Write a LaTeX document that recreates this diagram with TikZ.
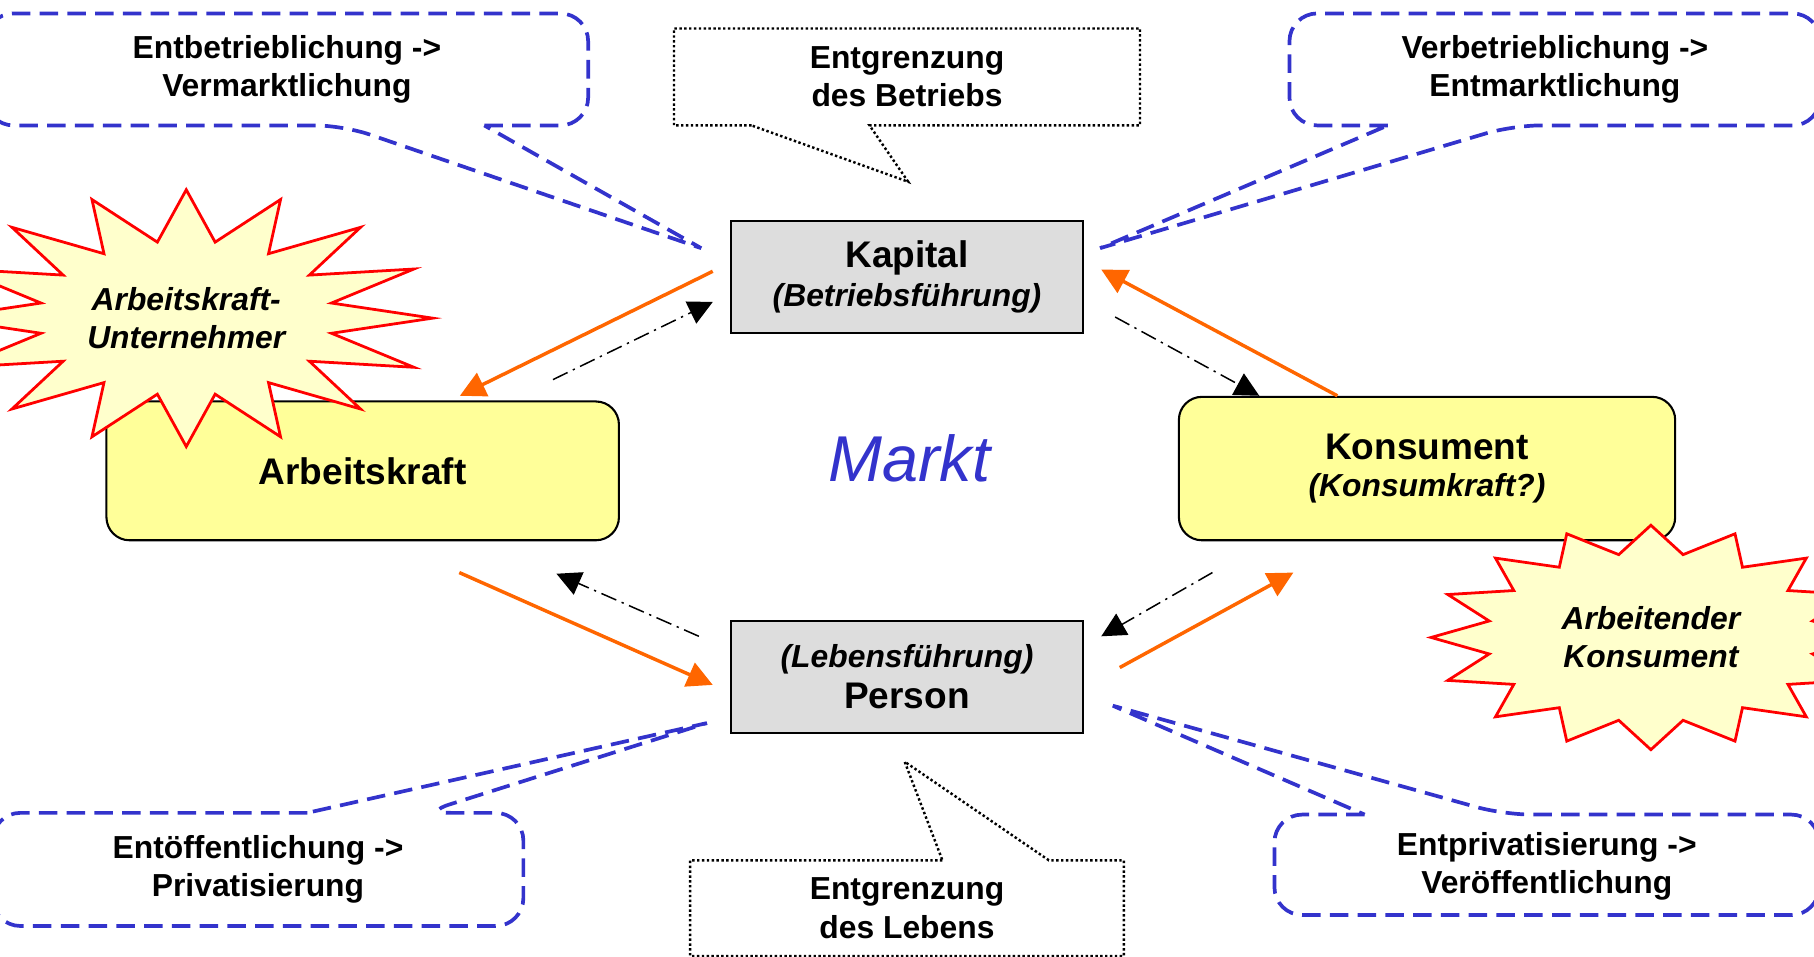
\documentclass[tikz,border=0pt]{standalone}
\usepackage{fontspec}
\setmainfont{Liberation Sans}
\usetikzlibrary{calc, positioning, arrows.meta}

\definecolor{boxGray}{HTML}{DDDDDD}
\definecolor{boxYellow}{HTML}{FFFF99}
\definecolor{burstFill}{HTML}{FFFFCC}
\definecolor{flowOrange}{HTML}{FF6600}
\definecolor{calloutBlue}{HTML}{3333CC}

\tikzset{
    txtSmall/.style={font=\fontsize{13.75}{16.5}\selectfont\bfseries, align=center, inner sep=0pt},
    grayBox/.style={draw=black, line width=0.9pt, fill=boxGray, minimum width=152pt, minimum height=48.5pt,
        align=center, font=\fontsize{13.75}{17}\selectfont\bfseries},
    yellowBox/.style={draw=black, line width=0.9pt, fill=boxYellow, rounded corners=10pt,
        align=center, font=\fontsize{13.75}{16}\selectfont\bfseries},
    burst/.style={draw=red, line width=1.2pt, fill=burstFill, line join=miter},
    burstText/.style={font=\fontsize{13.75}{16.5}\selectfont\bfseries\itshape, align=center},
    blueCall/.style={draw=calloutBlue, line width=1.6pt, dash pattern=on 8pt off 4pt},
    dotCall/.style={draw=black, line width=1.05pt, dash pattern=on 1.05pt off 1.05pt},
    flowArrow/.style={draw=flowOrange, line width=1.5pt, -{Triangle[length=11pt,width=11pt]}},
    backArrow/.style={draw=black, line width=0.65pt, dash pattern=on 7pt off 2.5pt on 1pt off 2.5pt,
        -{Triangle[length=10.5pt,width=10.5pt]}}
}

\begin{document}
\begin{tikzpicture}[x=0.5pt, y=-0.5pt]
    \useasboundingbox (0,0) rectangle (1568,827);
    \clip (0,0) rectangle (1568,827);

    % the four main boxes
    \node[grayBox] (kapital) at (784,239.5) {{\fontsize{16}{17}\selectfont Kapital}\\\itshape (Betriebsführung)};
    \node[grayBox, font=\fontsize{13.75}{18}\selectfont\bfseries] (person) at (784,585)
        {{\itshape (Lebensführung)}\\{\fontsize{16}{18}\selectfont Person}};
    \node[yellowBox, minimum width=221.5pt, minimum height=60pt] (arbeit) at (313.5,407)
        {\fontsize{16}{17}\selectfont Arbeitskraft};
    \node[yellowBox, minimum width=214.5pt, minimum height=62pt] (konsum) at (1233.5,405)
        {{\fontsize{16}{16}\selectfont Konsument}\\\itshape (Konsumkraft?)};

    \node[font=\fontsize{28}{30}\selectfont\itshape, text=calloutBlue] (markt) at (786,396) {Markt};

    % blue callouts
    \node[txtSmall, minimum width=260pt, minimum height=48pt] (tlc) at (248,60) {Entbetrieblichung ->\\Vermarktlichung};
    \draw[blueCall] ($(tlc.south west)+(431,0)$) [rounded corners=12pt] -- (tlc.south east) -- (tlc.north east)
        -- (tlc.north west) -- (tlc.south west) -- ($(tlc.south west)+(309,0)$) [sharp corners]
        -- ($(kapital.west)+(-25,-25)$) -- cycle;

    \node[txtSmall, minimum width=229pt, minimum height=48pt] (trc) at (1344,60) {Verbetrieblichung ->\\Entmarktlichung};
    \draw[blueCall] ($(trc.south west)+(85,0)$) [rounded corners=12pt] -- (trc.south west) -- (trc.north west)
        -- (trc.north east) -- (trc.south east) -- ($(trc.south west)+(193,0)$) [sharp corners]
        -- ($(kapital.east)+(14,-25)$) -- cycle;

    \node[txtSmall, minimum width=229pt, minimum height=48.5pt] (blc) at (223,751.5) {Entöffentlichung ->\\Privatisierung};
    \draw[blueCall] ($(blc.north west)+(272,0)$) [rounded corners=12pt] -- (blc.north west) -- (blc.south west)
        -- (blc.south east) -- (blc.north east) -- ($(blc.north west)+(372,0)$) [sharp corners]
        -- ($(person.west)+(-20,40)$) -- cycle;

    \node[txtSmall, minimum width=235pt, minimum height=41.5pt] (brc) at (1337,749) {Entprivatisierung ->\\Veröffentlichung};
    \draw[blueCall] ($(brc.north west)+(78,-3)$) [rounded corners=12pt] -- ($(brc.north west)+(0,-3)$)
        -- (brc.south west) -- (brc.south east) -- ($(brc.north east)+(0,-3)$)
        -- ($(brc.north west)+(198,-3)$) [sharp corners] -- ($(person.east)+(25,25)$) -- cycle;

    % dotted callouts
    \node[txtSmall, minimum width=201pt, minimum height=41.5pt] (tcc) at (784,66.5) {Entgrenzung\\des Betriebs};
    \draw[dotCall] ($(tcc.south west)+(67,0)$) -- (tcc.south west) -- (tcc.north west) -- (tcc.north east)
        -- (tcc.south east) -- ($(tcc.south west)+(169,0)$) -- ($(kapital.north)+(1,-33)$) -- cycle;

    \node[txtSmall, minimum width=187pt, minimum height=41pt] (bcc) at (784,785) {Entgrenzung\\des Lebens};
    \draw[dotCall] ($(bcc.north west)+(218,0)$) -- (bcc.north west) -- (bcc.south west) -- (bcc.south east)
        -- (bcc.north east) -- ($(bcc.north west)+(310,0)$) -- ($(person.south)+(-2,24)$) -- cycle;

    % starbursts (16 points)
    \begin{scope}[shift={(161,275)}]
        \draw[burst] (0,-111) \foreach \k in {0,...,15} {
            -- ({128*sin(\k*22.5+11.25)},{-67*cos(\k*22.5+11.25)})
            -- ({213*sin(\k*22.5+22.5)},{-111*cos(\k*22.5+22.5)})} -- cycle;
    \end{scope}
    \node[burstText] (aku) at (161,275) {Arbeitskraft-\\Unternehmer};

    \begin{scope}[shift={(1427,551)}]
        \draw[burst] (0,-97) \foreach \k in {0,...,15} {
            -- ({142.5*sin(\k*22.5+11.25)},{-73*cos(\k*22.5+11.25)})
            -- ({190*sin(\k*22.5+22.5)},{-97*cos(\k*22.5+22.5)})} -- cycle;
    \end{scope}
    \node[burstText] (ak) at (1427,551) {Arbeitender\\Konsument};

    % flows
    \draw[flowArrow] ($(kapital.west)+(-15,-5)$) -- ($(arbeit.north)+(84,-4)$);
    \draw[flowArrow] ($(arbeit.south)+(83.5,27)$) -- ($(person.west)+(-15,7)$);
    \draw[flowArrow] ($(person.east)+(31,-8)$) -- ($(konsum.south)+(-115.5,27)$);
    \draw[flowArrow] ($(konsum.north)+(-77.5,0)$) -- ($(kapital.east)+(15,-6.5)$);

    \draw[backArrow] ($(arbeit.north)+(164.5,-18)$) -- ($(kapital.west)+(-15,21.5)$);
    \draw[backArrow] ($(kapital.east)+(27,34.5)$) -- ($(konsum.north)+(-145,0)$);
    \draw[backArrow] ($(konsum.south)+(-185.5,27)$) -- ($(person.east)+(15,-35)$);
    \draw[backArrow] ($(person.west)+(-27,-35)$) -- ($(arbeit.south)+(167.5,28)$);
\end{tikzpicture}
\end{document}
